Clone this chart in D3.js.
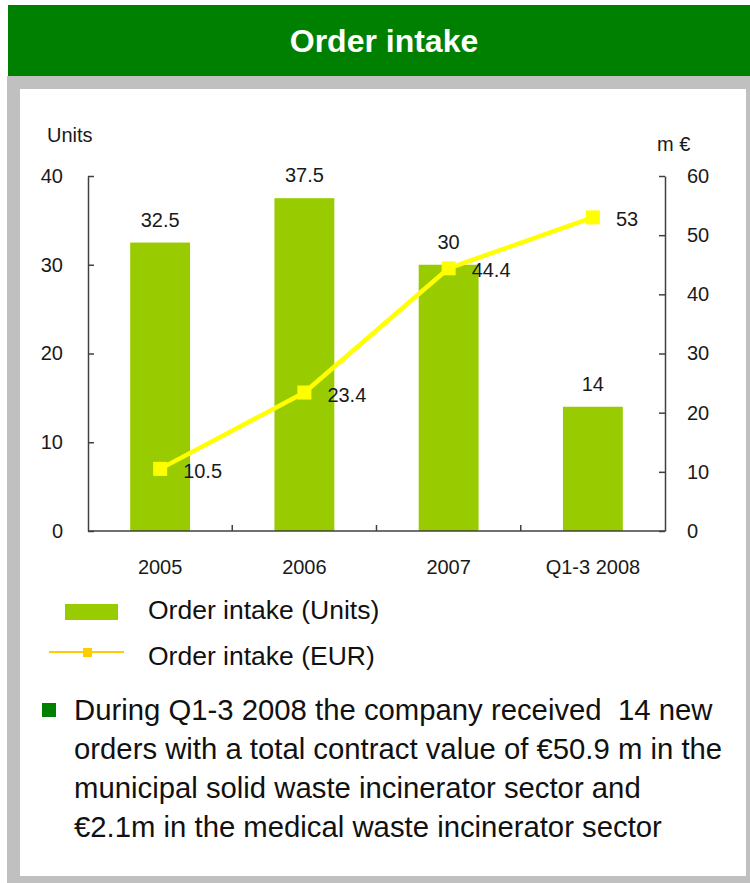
<!DOCTYPE html>
<html>
<head>
<meta charset="utf-8">
<script src="https://cdn.jsdelivr.net/npm/d3@7"></script>
<style>
  body { margin: 0; background: #fff; }
  text { font-family: "Liberation Sans", Arial, sans-serif; }
</style>
</head>
<body>
<script>
// data
const categories = ["2005", "2006", "2007", "Q1-3 2008"];
const unitValues = [32.5, 37.5, 30, 14];
const eurValues = [10.5, 23.4, 44.4, 53];
const leftTicks = [0, 10, 20, 30, 40];
const rightTicks = [0, 10, 20, 30, 40, 50, 60];
const legendLabels = ["Order intake (Units)", "Order intake (EUR)"];
const noteLines = [
    "During Q1-3 2008 the company received  14 new",
    "orders with a total contract value of \u20ac50.9 m in the",
    "municipal solid waste incinerator sector and",
    "\u20ac2.1m in the medical waste incinerator sector"
];

const W = 750, H = 883;
const barColor = "#99cc00", lineColor = "#ffff00", axisColor = "#404040";

const svg = d3.select("body").append("svg")
    .attr("width", W)
    .attr("height", H);

// frame + header
svg.append("rect").attr("x", 7).attr("y", 76).attr("width", W - 7).attr("height", H - 76).attr("fill", "#c0c0c0");
svg.append("rect").attr("x", 20).attr("y", 89).attr("width", 726).attr("height", 787).attr("fill", "#fff");
svg.append("rect").attr("x", 8).attr("y", 5).attr("width", W - 8).attr("height", 71).attr("fill", "#008000");
svg.append("text")
    .attr("x", 384).attr("y", 52)
    .attr("text-anchor", "middle")
    .attr("fill", "#fff")
    .style("font-size", "32px").style("font-weight", "bold")
    .text("Order intake");

// scales
const plot = {left: 88, right: 665, top: 176, bottom: 531};

const x = d3.scaleBand()
    .domain(categories)
    .range([plot.left, plot.right])
    .paddingInner(0.585)
    .paddingOuter(0.2925);

const yLeft = d3.scaleLinear().domain([0, 40]).range([plot.bottom, plot.top]);
const yRight = d3.scaleLinear().domain([0, 60]).range([plot.bottom, plot.top]);

// bars
svg.selectAll(".bar")
    .data(unitValues)
    .enter().append("rect")
    .attr("class", "bar")
    .attr("x", (d, i) => x(categories[i]))
    .attr("y", d => yLeft(d))
    .attr("width", x.bandwidth())
    .attr("height", d => yLeft(0) - yLeft(d))
    .attr("fill", barColor);

svg.selectAll(".barLabel")
    .data(unitValues)
    .enter().append("text")
    .attr("x", (d, i) => x(categories[i]) + x.bandwidth() / 2)
    .attr("y", d => yLeft(d) - 16)
    .attr("text-anchor", "middle")
    .style("font-size", "20px")
    .attr("fill", "#1a1a1a")
    .text(d => d);

// axes
function styleAxis(g) {
    g.selectAll("path, line").attr("stroke", axisColor).attr("stroke-width", 1.5);
    g.selectAll("text").style("font-size", "20px").attr("fill", "#1a1a1a")
        .style("font-family", "'Liberation Sans', Arial, sans-serif");
}

svg.append("g")
    .attr("transform", "translate(" + plot.left + ",0)")
    .call(d3.axisLeft(yLeft).tickValues(leftTicks).tickSizeInner(-6).tickSizeOuter(0).tickPadding(25))
    .call(styleAxis);

svg.append("g")
    .attr("transform", "translate(" + plot.right + ",0)")
    .call(d3.axisRight(yRight).tickValues(rightTicks).tickSizeInner(-6).tickSizeOuter(0).tickPadding(22))
    .call(styleAxis);

const xAxis = svg.append("g")
    .attr("transform", "translate(0," + plot.bottom + ")")
    .call(d3.axisBottom(x).tickSize(0).tickPadding(29))
    .call(styleAxis);
xAxis.select(".domain").attr("d", "M" + plot.left + ",0H" + plot.right);

// category boundary ticks pointing up
svg.selectAll(".catTick")
    .data(categories.slice(1))
    .enter().append("line")
    .attr("x1", d => x(d) - x.step() * x.paddingInner() / 2)
    .attr("x2", d => x(d) - x.step() * x.paddingInner() / 2)
    .attr("y1", plot.bottom)
    .attr("y2", plot.bottom - 6)
    .attr("stroke", axisColor)
    .attr("stroke-width", 1.5);

// axis titles
svg.append("text").attr("x", 47).attr("y", 142).style("font-size", "20px").attr("fill", "#1a1a1a").text("Units");
svg.append("text").attr("x", 657).attr("y", 151).style("font-size", "20px").attr("fill", "#1a1a1a").text("m \u20ac");

// line
const cx = (d, i) => x(categories[i]) + x.bandwidth() / 2;
const line = d3.line()
    .x(cx)
    .y(d => yRight(d));

svg.append("path")
    .datum(eurValues)
    .attr("d", line)
    .attr("fill", "none")
    .attr("stroke", lineColor)
    .attr("stroke-width", 4.5);

svg.selectAll(".marker")
    .data(eurValues)
    .enter().append("rect")
    .attr("x", (d, i) => cx(d, i) - 7)
    .attr("y", d => yRight(d) - 7)
    .attr("width", 14)
    .attr("height", 14)
    .attr("fill", lineColor);

svg.selectAll(".lineLabel")
    .data(eurValues)
    .enter().append("text")
    .attr("x", (d, i) => cx(d, i) + 23)
    .attr("y", d => yRight(d) + 9)
    .style("font-size", "20px")
    .attr("fill", "#1a1a1a")
    .text(d => d);

// legend
svg.append("rect").attr("x", 65).attr("y", 604).attr("width", 53).attr("height", 16).attr("fill", barColor);
svg.append("line").attr("x1", 49).attr("x2", 124).attr("y1", 652).attr("y2", 652)
    .attr("stroke", "#ffcc00").attr("stroke-width", 2);
svg.append("rect").attr("x", 83).attr("y", 648).attr("width", 9).attr("height", 9).attr("fill", "#ffcc00");

svg.selectAll(".legendText")
    .data(legendLabels)
    .enter().append("text")
    .attr("x", 148)
    .attr("y", (d, i) => 619 + i * 46)
    .style("font-size", "26.5px")
    .attr("fill", "#111")
    .text(d => d);

// note
svg.append("rect").attr("x", 42).attr("y", 703).attr("width", 14).attr("height", 14).attr("fill", "#008000");
svg.selectAll(".note")
    .data(noteLines)
    .enter().append("text")
    .attr("x", 74)
    .attr("y", (d, i) => 720 + i * 39)
    .style("font-size", "29.3px")
    .attr("fill", "#111")
    .style("white-space", "pre")
    .text(d => d);
</script>
</body>
</html>
